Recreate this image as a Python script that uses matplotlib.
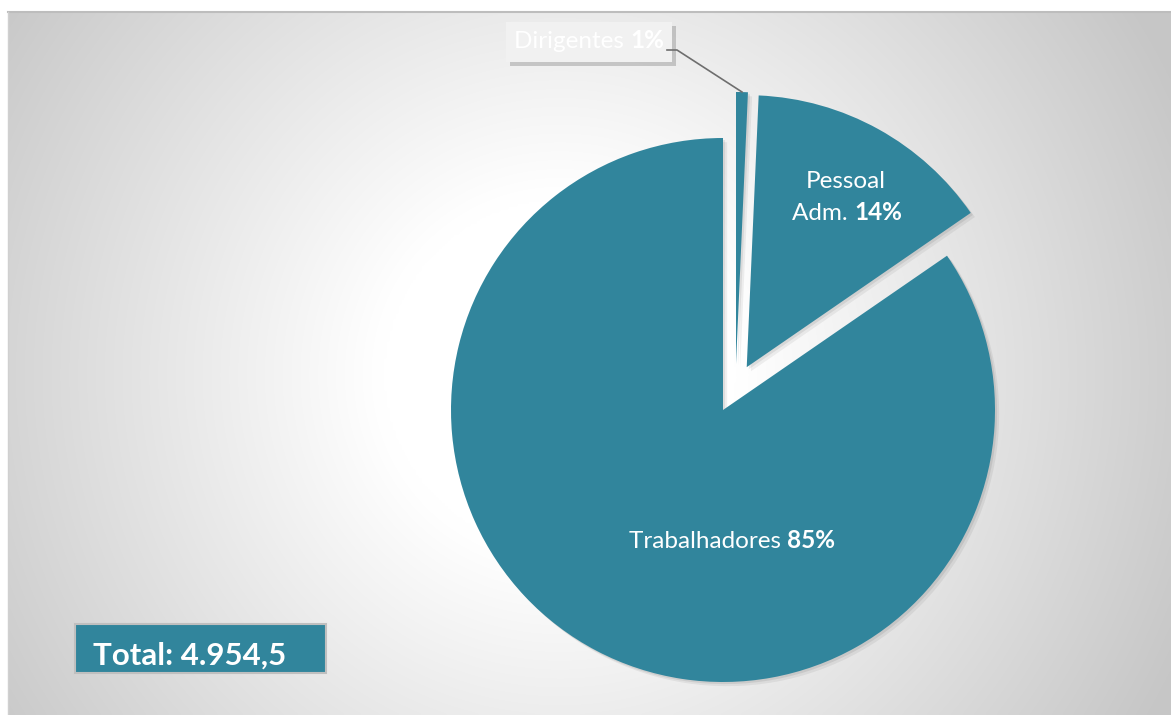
import numpy as np
from matplotlib import pyplot as plt
from matplotlib import patheffects as pe
from matplotlib.patches import Rectangle

# dados
categorias = ["Dirigentes", "Pessoal\nAdm.", "Trabalhadores"]
valores = [0.7, 14.7, 84.6]
rotulos_pct = ["1%", "14%", "85%"]
total_txt = "Total: 4.954,5"

cor = "#31859c"
W, H = 1171, 715

plt.rcParams['font.family'] = ['Lato', 'DejaVu Sans']

fig = plt.figure(figsize=(W / 100, H / 100), dpi=100)
fig.patch.set_facecolor("white")
ax = fig.add_axes([0, 0, 1, 1])
ax.set_xlim(0, W)
ax.set_ylim(0, H)
ax.axis("off")

# fundo com gradiente radial
x0, x1, y0, y1 = 8, W, 0, H - 12
xx, yy = np.meshgrid(np.linspace(x0, x1, 400), np.linspace(y0, y1, 250))
cx, cy = 560, 340
d = np.sqrt((xx - cx) ** 2 + (yy - cy) ** 2)
t = np.clip((d - 180) / (680 - 180), 0, 1)
g = 1.0 - t * (1.0 - 0.78)
img = np.dstack([g, g, g])
ax.imshow(img, extent=[x0, x1, y0, y1], origin="lower", aspect="auto", zorder=0,
          interpolation="bicubic")
ax.plot([x0, x1], [y1, y1], color="#bdbdbd", lw=1.5, zorder=1)
ax.plot([x0, x0], [y0, y1], color="#d0d0d0", lw=1, zorder=1)

# pizza
raio = 272
centro = (723, H - 410)
wedges, _ = ax.pie(valores, startangle=90, counterclock=False, radius=raio,
                   center=centro, explode=[0.17 * raio, 0.18 * raio, 0],
                   colors=[cor] * 3, frame=True)
ax.set_xlim(0, W)
ax.set_ylim(0, H)
ax.set_aspect("auto")
ax.axis("off")
# fatia pequena deslocada um pouco para a direita, como no original
wedges[0].set_center((736, H - 410 + 46))
for w in wedges:
    w.set_zorder(3)
    w.set_path_effects([pe.SimplePatchShadow(offset=(3, -3), shadow_rgbFace="black", alpha=0.06),
                        pe.SimplePatchShadow(offset=(1.5, -1.5), shadow_rgbFace="black", alpha=0.08),
                        pe.Normal()])

renderer = fig.canvas.get_renderer()


def rotulo(x, y, normal, negrito, size, color="white", zorder=6):
    # texto normal + parte em negrito, centrado em x
    t1 = ax.text(0, y, normal, fontsize=size, color=color, ha="left", va="center", zorder=zorder)
    t2 = ax.text(0, y, negrito, fontsize=size, color=color, ha="left", va="center",
                 fontweight="bold", zorder=zorder)
    w1 = t1.get_window_extent(renderer).width
    w2 = t2.get_window_extent(renderer).width
    inv = ax.transData.inverted()
    w1d = inv.transform((w1, 0))[0] - inv.transform((0, 0))[0]
    w2d = inv.transform((w2, 0))[0] - inv.transform((0, 0))[0]
    start = x - (w1d + w2d) / 2
    t1.set_x(start)
    t2.set_x(start + w1d)


fs = 17.5
rotulo(732, H - 541, "Trabalhadores ", rotulos_pct[2], fs)
ax.text(846, H - 182, categorias[1].split("\n")[0], fontsize=fs, color="white",
        ha="center", va="center", zorder=6)
rotulo(847, H - 213, categorias[1].split("\n")[1] + " ", rotulos_pct[1], fs)

# rótulo Dirigentes com caixa
caixa = Rectangle((506, H - 62), 166, 40, facecolor="#f1f1f1", edgecolor="none", zorder=4,
                  path_effects=[pe.SimplePatchShadow(offset=(3, -3), alpha=0.25), pe.Normal()])
ax.add_patch(caixa)
rotulo(589, H - 41, categorias[0] + " ", rotulos_pct[0], fs)
ax.plot([667, 677, 742], [H - 50, H - 50, H - 92], color="#6e6e6e", lw=1.2, zorder=5)

# caixa do total
ax.add_patch(Rectangle((75, H - 673), 251, 49, facecolor=cor, edgecolor="#bfbfbf",
                       lw=1.5, zorder=4))
ax.text(93, H - 656, total_txt, fontsize=22.5, fontweight="bold", color="white",
        ha="left", va="center", zorder=6)

fig.savefig("out.png", dpi=100, facecolor="white")
